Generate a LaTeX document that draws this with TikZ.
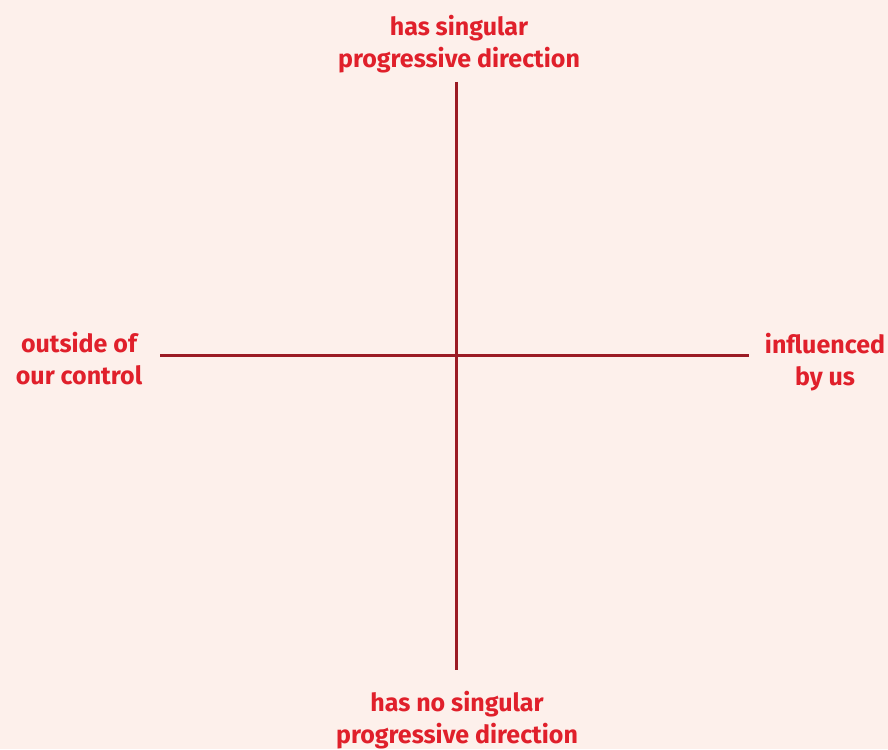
\documentclass[tikz,border=0pt]{standalone}
\usepackage{fontspec}
\setmainfont{Fira Sans}
\usepackage{xcolor}
\usepackage{tikz}
\usetikzlibrary{positioning}
\definecolor{paper}{HTML}{FDF0EB}
\definecolor{axRed}{HTML}{E0202B}
\definecolor{axDark}{HTML}{9B1B24}

\begin{document}
\begin{tikzpicture}[x=1pt,y=-1pt,
  lbl/.style={text=axRed,font=\fontsize{25}{32}\selectfont\bfseries,align=center,inner sep=0pt},
  axis/.style={axDark,line width=3pt}]
\fill[paper] (0,0) rectangle (888,749);
\useasboundingbox (0,0) rectangle (888,749);
% end points of the two axes
\coordinate (top) at (456,82);
\coordinate (bot) at (456,670);
\coordinate (lft) at (160,355);
\coordinate (rgt) at (749,355);
\draw[axis] (top) -- (bot);
\draw[axis] (lft) -- (rgt);
% pole labels
\node[lbl] (up) at (459,44) {has singular\\progressive direction};
\node[lbl] (down) at (457,720) {has no singular\\progressive direction};
\node[lbl] (out) at (79,359) {outside of\\our control};
\node[lbl] (in) at (825,362) {influenced\\by us};
\end{tikzpicture}
\end{document}
